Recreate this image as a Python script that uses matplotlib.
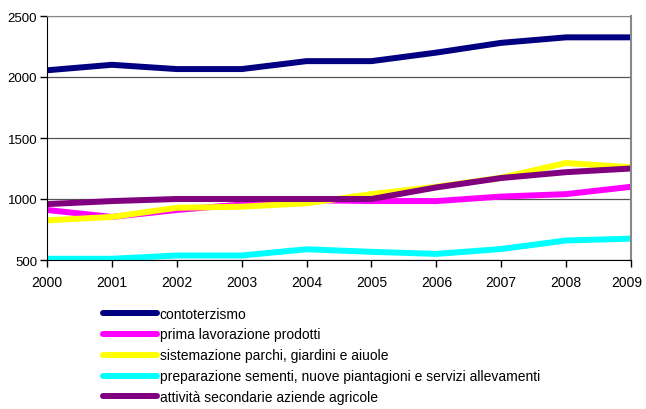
import matplotlib.pyplot as plt
from matplotlib.transforms import ScaledTranslation

plt.rcParams['font.family'] = ['Liberation Sans', 'DejaVu Sans']

years = [2000, 2001, 2002, 2003, 2004, 2005, 2006, 2007, 2008, 2009]
contoterzismo = [2055, 2100, 2065, 2065, 2130, 2130, 2200, 2280, 2325, 2325]
prima_lavorazione = [910, 853, 910, 955, 990, 983, 983, 1020, 1040, 1100]
sistemazione = [825, 853, 928, 937, 965, 1040, 1100, 1175, 1295, 1260]
preparazione = [510, 510, 537, 537, 588, 567, 550, 590, 660, 675]
attivita = [958, 983, 1000, 1000, 1000, 1000, 1095, 1172, 1220, 1250]

labels = [
    "contoterzismo",
    "prima lavorazione prodotti",
    "sistemazione parchi, giardini e aiuole",
    "preparazione sementi, nuove piantagioni e servizi allevamenti",
    "attività secondarie aziende agricole",
]
series = [contoterzismo, prima_lavorazione, sistemazione, preparazione, attivita]
colors = ["#000080", "#FF00FF", "#FFFF00", "#00FFFF", "#800080"]

fig = plt.figure(figsize=(6.46, 4.10), dpi=100)
ax = fig.add_axes([47 / 646, 1 - 261 / 410, 584 / 646, 244 / 410])

for vals, lab, col in zip(series, labels, colors):
    ax.plot(years, vals, color=col, lw=4.3, label=lab,
            solid_capstyle="butt", solid_joinstyle="round")

ax.set_xlim(2000, 2009)
ax.set_ylim(500, 2500)
ax.set_xticks(years)
ax.set_yticks([500, 1000, 1500, 2000, 2500])
ax.yaxis.grid(True, color="#555555", lw=0.9)
ax.set_axisbelow(True)
ax.tick_params(direction="out", length=5, width=1)
ax.tick_params(axis="x", pad=6, labelsize=10)
ax.tick_params(axis="y", pad=2, labelsize=9.5)

# keep the last year label inside the canvas
last = ax.get_xticklabels()[-1]
last.set_ha("right")
last.set_transform(last.get_transform() + ScaledTranslation(11 / 100, 0, fig.dpi_scale_trans))

ax.spines["left"].set_color("black")
ax.spines["bottom"].set_color("black")
ax.spines["top"].set_color("#888888")
ax.spines["right"].set_color("#888888")
ax.spines["right"].set_linewidth(1.5)

leg = fig.legend(loc="upper left", bbox_to_anchor=(97 / 646, 1 - 302 / 410),
                 frameon=False, fontsize=10, handlelength=3.9,
                 handletextpad=0.2, labelspacing=0.5, borderaxespad=0)
for h in leg.get_lines():
    h.set_solid_capstyle("round")

fig.savefig("out.png", dpi=100)
